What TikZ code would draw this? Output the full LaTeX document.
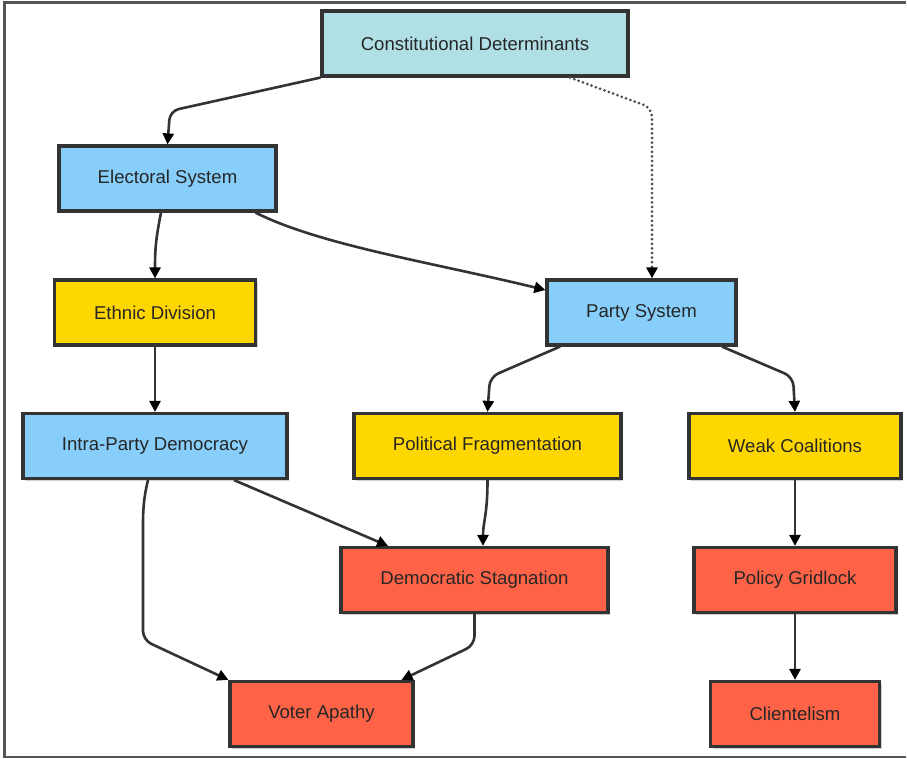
\documentclass[tikz,border=0pt]{standalone}
\usepackage{fontspec}
\setmainfont{Liberation Sans}
\usetikzlibrary{arrows.meta,shadows}
\definecolor{cdfill}{HTML}{B0E0E6}
\definecolor{bluefill}{HTML}{87CEFA}
\definecolor{goldfill}{HTML}{FFD700}
\definecolor{redfill}{HTML}{FF6347}
\definecolor{edgecol}{HTML}{333333}
\definecolor{dotcol}{HTML}{4D4D4D}
\definecolor{framecol}{HTML}{555555}
\tikzset{
  box/.style={draw=edgecol, line width=3.2pt, minimum height=65pt, inner sep=0pt,
    text=black!85, font=\fontsize{18.6}{22}\selectfont,
    drop shadow={shadow xshift=2pt, shadow yshift=-2pt, opacity=0.18, fill=black}},
  cdbox/.style={box, fill=cdfill},
  bluebox/.style={box, fill=bluefill},
  goldbox/.style={box, fill=goldfill},
  redbox/.style={box, fill=redfill},
  conn/.style={draw=edgecol, line width=2.6pt, -{Triangle[length=11pt,width=11pt,color=black]}, rounded corners=9pt},
  dotconn/.style={draw=dotcol, line width=3pt, line cap=round, dash pattern=on 0pt off 4.6pt,
    -{Triangle[length=11pt,width=11pt,color=black,line cap=butt]}, rounded corners=9pt}
}
\begin{document}
\begin{tikzpicture}[x=1pt,y=-1pt]
\useasboundingbox (0,0) rectangle (907,759);
\draw[framecol, line width=2.2pt] (906,2.5) -- (4.5,2.5) -- (4.5,757) -- (906,757);

\node[cdbox, minimum width=306pt] (cd) at (475,43.5) {Constitutional Determinants};
\node[bluebox, minimum width=217pt] (es) at (167.5,178.5) {Electoral System};
\node[goldbox, minimum width=201pt] (ed) at (155,312.5) {Ethnic Division};
\node[bluebox, minimum width=189pt] (ps) at (641.5,312.5) {Party System};
\node[bluebox, minimum width=264pt] (ipd) at (155,446) {Intra-Party Democracy};
\node[goldbox, minimum width=267pt] (pf) at (487.5,446) {Political Fragmentation};
\node[goldbox, minimum width=212pt] (wc) at (795,446) {Weak Coalitions};
\node[redbox, minimum width=267pt] (dst) at (474.5,580) {Democratic Stagnation};
\node[redbox, minimum width=202pt] (pg) at (795,580) {Policy Gridlock};
\node[redbox, minimum width=183pt] (va) at (321.5,714) {Voter Apathy};
\node[redbox, minimum width=169pt] (cl) at (795,714) {Clientelism};

\draw[conn] (cd.south west) -- (170,111) -- (es.north);
\draw[dotconn] ([xshift=95pt]cd.south) -- (652,108) -- ([xshift=10.5pt]ps.north);
\draw[conn] ([xshift=-6.5pt]es.south) .. controls (156,238) and (155,248) .. (ed.north);
\draw[conn] ([xshift=88pt]es.south) .. controls (320,245) and (430,262) .. ([yshift=22.5pt]ps.west);
\draw[conn] (ed.south) -- (ipd.north);
\draw[conn] ([xshift=-81.5pt]ps.south) -- (490,377) -- (pf.north);
\draw[conn] ([xshift=80.5pt]ps.south) -- (793,377) -- (wc.north);
\draw[conn] ([xshift=79pt]ipd.south) -- ([xshift=-86.5pt]dst.north);
\draw[conn] ([xshift=-7pt]ipd.south) .. controls (143,500) and (143,515) .. (143,535) -- (143,640) -- (va.north west);
\draw[conn] (pf.south) .. controls (487.5,515) and (483,522) .. ([xshift=8.5pt]dst.north);
\draw[conn] (dst.south) -- (474.5,645) -- ([xshift=80pt]va.north);
\draw[conn] (wc.south) -- (pg.north);
\draw[conn] (pg.south) -- (cl.north);
\end{tikzpicture}
\end{document}
